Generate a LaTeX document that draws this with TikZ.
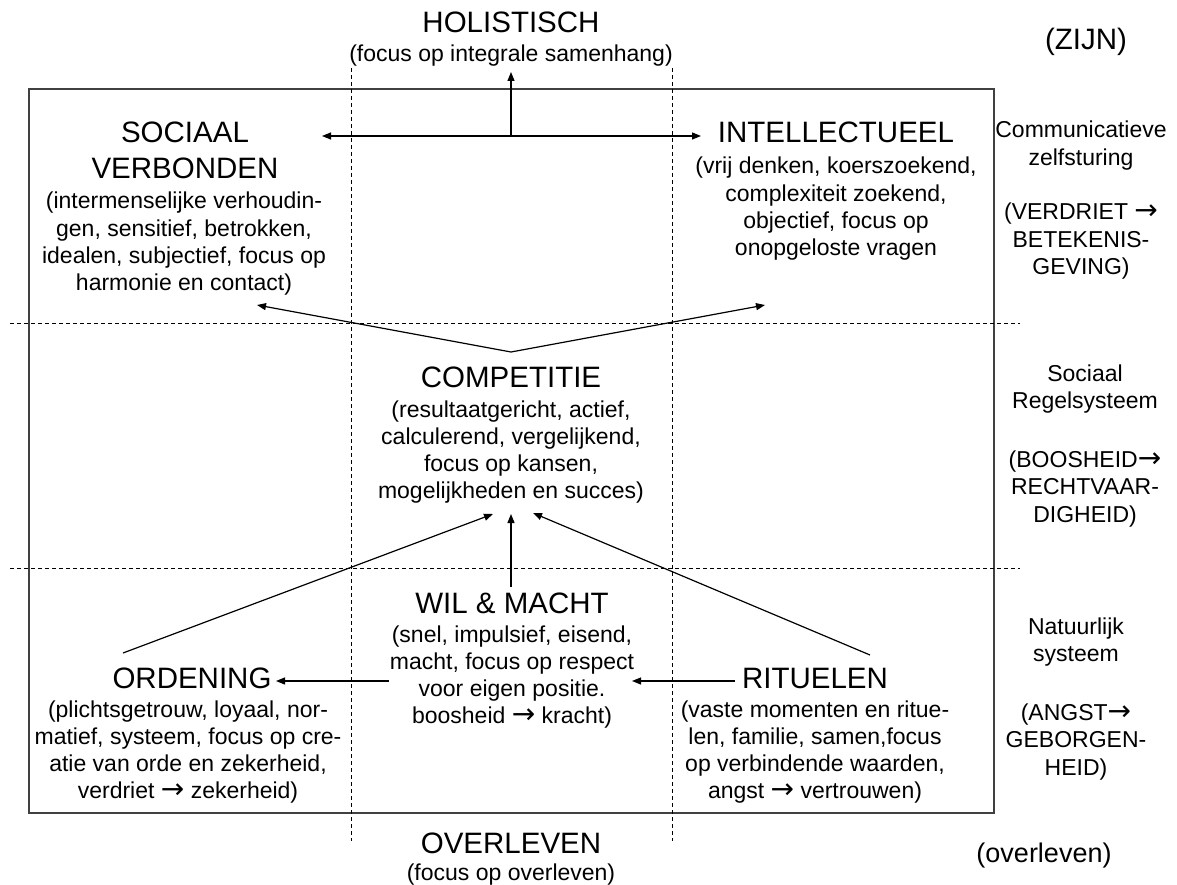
\documentclass[tikz,border=0pt]{standalone}
\usepackage{fontspec}
\setmainfont{Liberation Sans}
\newfontfamily\arrfont{DejaVu Sans}
\usetikzlibrary{arrows.meta}
\newcommand\ttlfont{\fontsize{29.5}{36}\selectfont}
\newcommand\bdyfont{\fontsize{23}{27.3}\selectfont}
\newcommand\tailfont{\fontsize{27}{30}\selectfont}
\newcommand\tb[1]{\begin{tabular}[t]{@{}c@{}}#1\end{tabular}}
\newcommand\arr{{\arrfont\fontsize{28}{27.3}\selectfont →}}
\begin{document}
\begin{tikzpicture}[x=1pt,y=-1pt,
  ttl/.style={anchor=base,inner sep=0pt,font=\ttlfont},
  bdy/.style={anchor=base,inner sep=0pt,font=\bdyfont},
  conn/.style={line width=1.2pt,-{Triangle[length=9pt,width=7pt]}},
  guide/.style={line width=0.8pt,dash pattern=on 4pt off 3pt},
  frame/.style={line width=1.4pt,draw=black!75}]
\useasboundingbox[fill=white] (0,0) rectangle (1177,885);

% frame and guides
\draw[frame] (29,89) rectangle (994,813);
\draw[guide] (351,68) -- (351,841);
\draw[guide] (672,68) -- (672,841);
\draw[guide] (10,323) -- (1020,323);
\draw[guide] (10,568) -- (1020,568);

% texts
\node[ttl] (hol) at (511,33) {HOLISTISCH};
\node[bdy] (holb) at (511,62) {(focus op integrale samenhang)};
\node[ttl] (zijn) at (1086,50) {(ZIJN)};

\node[ttl] (sv) at (185,143) {\tb{SOCIAAL\\VERBONDEN}};
\node[bdy] (svb) at (184,209) {\tb{(intermenselijke verhoudin-\\gen, sensitief, betrokken,\\idealen, subjectief, focus op\\harmonie en contact)}};

\node[ttl] (int) at (836,143) {INTELLECTUEEL};
\node[bdy] (intb) at (836,174) {\tb{(vrij denken, koerszoekend,\\complexiteit zoekend,\\objectief, focus op\\onopgeloste vragen}};

\node[ttl] (comp) at (511,387) {COMPETITIE};
\node[bdy] (compb) at (511,417) {\tb{(resultaatgericht, actief,\\calculerend, vergelijkend,\\focus op kansen,\\mogelijkheden en succes)}};

\node[ttl] (wil) at (512,613) {WIL \& MACHT};
\node[bdy] (wilb) at (512,642) {\tb{(snel, impulsief, eisend,\\macht, focus op respect\\voor eigen positie.\\boosheid \arr{} kracht)}};

\node[ttl] (ord) at (192,688) {ORDENING};
\node[bdy] (ordb) at (188,717) {\tb{(plichtsgetrouw, loyaal, nor-\\matief, systeem, focus op cre-\\atie van orde en zekerheid,\\verdriet \arr{} zekerheid)}};

\node[ttl] (rit) at (815,688) {RITUELEN};
\node[bdy] (ritb) at (815,717) {\tb{(vaste momenten en ritue-\\len, familie, samen,focus\\op verbindende waarden,\\angst \arr{} vertrouwen)}};

\node[ttl] (ovl) at (511,853) {OVERLEVEN};
\node[bdy] (ovlb) at (511,880) {(focus op overleven)};
\node[anchor=base,inner sep=0pt,font=\tailfont] (ovs) at (1044,862) {(overleven)};

\node[bdy] (side1) at (1081,138) {\tb{Communicatieve\\zelfsturing\\[27.3pt](VERDRIET \arr\\BETEKENIS-\\GEVING)}};
\node[bdy] (side2) at (1085,381) {\tb{Sociaal\\Regelsysteem\\[32pt](BOOSHEID\arr\\RECHTVAAR-\\DIGHEID)}};
\node[bdy] (side3) at (1076,634) {\tb{Natuurlijk\\systeem\\[32pt](ANGST\arr\\GEBORGEN-\\HEID)}};

% connector points
\coordinate (tsv) at (322,136);
\coordinate (tint) at (701,136);
\coordinate (jtop) at (511,136);
\coordinate (thol) at (511,72);
\coordinate (apex) at (511,352);
\coordinate (tsvb) at (257,305);
\coordinate (tintb) at (765,305);
\coordinate (sord) at (123,653);
\coordinate (tcl) at (493,514);
\coordinate (swil) at (511,587);
\coordinate (tcm) at (511,514);
\coordinate (srit) at (870,655);
\coordinate (tcr) at (533,513);
\coordinate (swl) at (389,681);
\coordinate (tord) at (276,681);
\coordinate (srl) at (735,681);
\coordinate (twil) at (632,681);

% connectors
\draw[conn,{Triangle[length=9pt,width=7pt]}-{Triangle[length=9pt,width=7pt]}] (tsv) -- (tint);
\draw[conn] (jtop) -- (thol);
\draw[conn] (apex) -- (tsvb);
\draw[conn] (apex) -- (tintb);
\draw[conn] (sord) -- (tcl);
\draw[conn] (swil) -- (tcm);
\draw[conn] (srit) -- (tcr);
\draw[conn] (swl) -- (tord);
\draw[conn] (srl) -- (twil);
\end{tikzpicture}
\end{document}
